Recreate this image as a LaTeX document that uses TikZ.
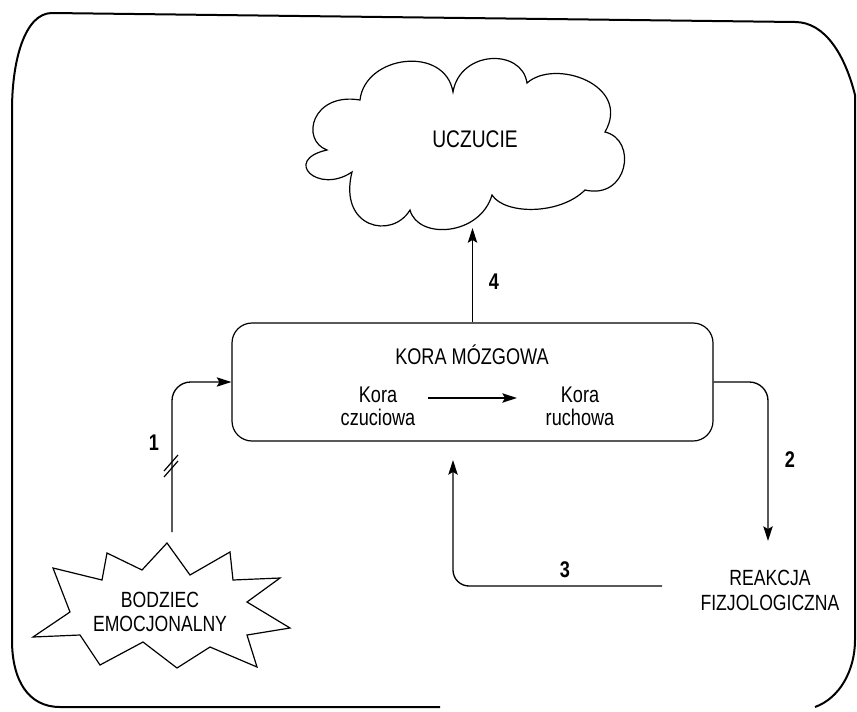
\documentclass[tikz,border=0pt]{standalone}
\usepackage{fontspec}
\setmainfont{Liberation Sans}[FakeStretch=0.8]
\usetikzlibrary{arrows.meta}
\begin{document}
\begin{tikzpicture}[x=0.75pt,y=-0.75pt,
  frame/.style={line width=1.5pt},
  conn/.style={line width=1pt,-{Stealth[length=11pt,width=7pt,inset=2pt]}},
  plain/.style={line width=0.9pt},
  outline/.style={line width=0.9pt},
  lbl/.style={font=\fontsize{17}{20}\selectfont},
  num/.style={font=\fontsize{17}{20}\selectfont\bfseries},
  box/.style={draw,line width=0.9pt,rounded corners=15pt,minimum width=360.75pt,minimum height=88.5pt,inner sep=0pt}]
\useasboundingbox (0,0) rectangle (857,711);

% outer frame
\draw[frame] (440,707) -- (60,707) .. controls (28,707) and (12,680) .. (12,640)
  -- (12,110) .. controls (12,60) and (25,13) .. (52,13) -- (795,22)
  .. controls (825,22) and (845,55) .. (855,95) -- (855,640)
  .. controls (855,670) and (840,698) .. (815,707);

% cloud
\draw[outline] (327,150) .. controls (300,140) and (312,92) .. (360,100)
  .. controls (365,55) and (445,45) .. (453,92)
  .. controls (460,50) and (522,48) .. (527,83)
  .. controls (555,58) and (632,85) .. (605,132)
  .. controls (638,140) and (628,200) .. (585,190)
  .. controls (560,215) and (505,215) .. (492,195)
  .. controls (480,236) and (418,240) .. (410,210)
  .. controls (392,240) and (338,228) .. (352,172)
  .. controls (318,195) and (282,160) .. cycle;
\node[font=\fontsize{18}{21}\selectfont] (uczu) at (475,139) {UCZUCIE};

% cortex box
\node[box] (kora) at (472.5,382) {};
\node[lbl] (koratitle) at (472,355) {KORA MÓZGOWA};
\node[font=\fontsize{17}{17.25}\selectfont,align=center] (czuc) at (378,406) {Kora\\czuciowa};
\node[font=\fontsize{17}{17.25}\selectfont,align=center] (ruch) at (580,406) {Kora\\ruchowa};
\coordinate (ia) at (428,398);
\coordinate (ib) at (517,398);
\draw[conn] (ia) -- (ib);

% starburst
\draw[outline] (53,568) -- (102,580) -- (107,553) -- (142,570) -- (167,543)
  -- (190,575) -- (230,552) -- (233,580) -- (280,578) -- (247,602)
  -- (290,628) -- (247,635) -- (257,667) -- (210,647) -- (177,668)
  -- (143,642) -- (100,665) -- (80,635) -- (33,637) -- (70,612) -- cycle;
\node[font=\fontsize{16.5}{18}\selectfont,align=center] (bodz) at (160,612) {BODZIEC\\EMOCJONALNY};

% reaction
\node[font=\fontsize{16.5}{18.75}\selectfont,align=center] (reak) at (770,590) {REAKCJA\\FIZJOLOGICZNA};

% connectors
\coordinate (s1) at (172,532);
\coordinate (a2end) at (768,541);
\coordinate (a3start) at (662,586);
\coordinate (a3end) at (453,460);
\coordinate (a4end) at (472.5,228);

\draw[conn,rounded corners=14pt] (s1) |- (kora.west);
\draw[conn,rounded corners=14pt] (kora.east) -| (a2end);
\draw[conn,rounded corners=12pt] (a3start) -| (a3end);
\draw[conn] (kora.north) -- (a4end);

% break mark on connector 1
\draw[plain] (164,471) -- (178,455);
\draw[plain] (164,477) -- (178,461);

% numbers
\node[num] (n1) at (154,443) {1};
\node[num] (n2) at (790,460) {2};
\node[num] (n3) at (565,570) {3};
\node[num] (n4) at (494,282) {4};
\end{tikzpicture}
\end{document}
